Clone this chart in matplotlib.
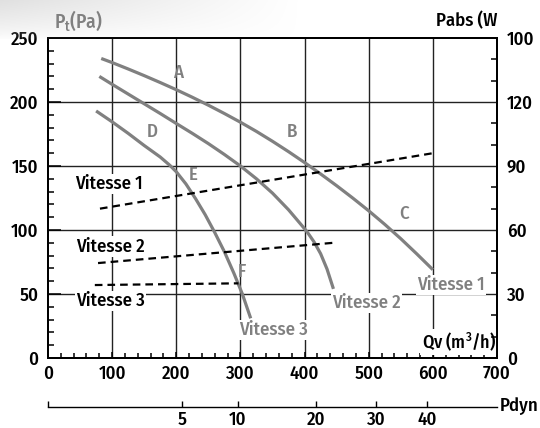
import numpy as np
import matplotlib
matplotlib.use("Agg")
import matplotlib.pyplot as plt
from matplotlib.ticker import MultipleLocator

plt.rcParams['font.family'] = ['Fira Sans Condensed', 'DejaVu Sans']
plt.rcParams['font.weight'] = 'medium'
plt.rcParams['mathtext.fontset'] = 'custom'
plt.rcParams['mathtext.rm'] = 'Fira Sans Condensed:medium'
plt.rcParams['lines.scale_dashes'] = False

# ---- data ----
# pressure curves (Pa vs m3/h)
curve_a_x = [83, 100, 125, 150, 175, 200, 225, 250, 275, 300, 325, 350, 375, 400,
             425, 450, 475, 500, 525, 550, 575, 600]
curve_a_y = [234, 230.8, 225.8, 220.6, 215.2, 209.6, 203.7, 197.5, 191, 184.2, 177,
             169.3, 161.2, 152.7, 143.8, 134.6, 125, 115, 104.4, 93.2, 81.3, 69]
curve_b_x = [80, 100, 125, 150, 175, 200, 225, 250, 275, 300, 325, 350, 375, 400,
             405, 415, 425, 435, 445]
curve_b_y = [220, 213.8, 206.2, 198.6, 191, 183.2, 175.5, 167.5, 159, 150, 140,
             128.8, 115.8, 101, 97.8, 90.5, 81.5, 69.5, 54]
curve_c_x = [75, 100, 125, 150, 175, 190, 200, 215, 230, 245, 260, 275, 290, 303, 316]
curve_c_y = [193, 184.5, 175.5, 166, 157, 150.5, 145.5, 136, 124.5, 112, 98, 83,
             66, 50, 31]

# absorbed power (W) vs m3/h, right axis
pow1_x = [81, 600]
pow1_w = [70, 96]
pow2_x = [78, 445]
pow2_w = [44.5, 54]
pow3_x = [73, 297]
pow3_w = [34.2, 35]

left_ticks = [0, 50, 100, 150, 200, 250]
right_tick_labels = ['0', '30', '60', '90', '120', '100']
x_ticks = [0, 100, 200, 300, 400, 500, 600, 700]
pdyn_ticks = [5, 10, 20, 30, 40]
pdyn_k = 93.5  # Qv = k*sqrt(Pdyn)

W_PER_PA = 0.6  # right-axis scale: 90 W <-> 150 Pa

GRAY = '#808080'
FS = 13.5

fig = plt.figure(figsize=(5.4, 4.28), dpi=100)
L, R, T, B = 48, 497, 38, 358
ax = fig.add_axes([L / 540, 1 - B / 428, (R - L) / 540, (B - T) / 428])
ax.set_xlim(0, 700)
ax.set_ylim(0, 250)

# light scan shadow in the top-left corner
grad = np.linspace(1, 0, 300)[None, :] * np.linspace(1, 0, 40)[:, None] ** 0.7
fig.figimage(np.dstack([np.full_like(grad, 0.8)] * 3 + [grad * 0.6]),
             xo=0, yo=428 - 40, zorder=0, resize=False)

# grid
for xv in [100, 200, 300, 400, 500, 600]:
    ax.axvline(xv, color='#222222', lw=1.0, zorder=1)
for yv in [50, 100, 150, 200]:
    ax.axhline(yv, color='#222222', lw=1.0, zorder=1)

# curves
for cx, cy in [(curve_a_x, curve_a_y), (curve_b_x, curve_b_y), (curve_c_x, curve_c_y)]:
    ax.plot(cx, cy, color=GRAY, lw=2.3, solid_capstyle='butt',
            solid_joinstyle='round', zorder=3)

for px_, pw in [(pow1_x, pow1_w), (pow2_x, pow2_w), (pow3_x, pow3_w)]:
    ax.plot(px_, np.array(pw) / W_PER_PA, color='black', lw=1.6,
            dashes=(5.5, 3.6), zorder=3)

# axis styling
for s in ax.spines.values():
    s.set_linewidth(1.4)
ax.set_xticks(x_ticks)
ax.xaxis.set_minor_locator(MultipleLocator(20))
ax.set_yticks(left_ticks)
ax.yaxis.set_minor_locator(MultipleLocator(10))
ax.tick_params(axis='both', which='both', direction='in', labelsize=FS, width=1.1)
ax.tick_params(axis='y', which='major', length=9, pad=7)
ax.tick_params(axis='y', which='minor', length=4.5)
ax.tick_params(axis='x', which='major', length=4, pad=5)
ax.tick_params(axis='x', which='minor', length=3.5)

# right axis
axr = ax.twinx()
axr.set_ylim(0, 250)
axr.set_yticks(left_ticks)
axr.set_yticklabels(right_tick_labels)
axr.yaxis.set_minor_locator(MultipleLocator(50 / 3))
axr.tick_params(axis='y', which='both', direction='in', labelsize=FS, width=1.1, pad=7)
axr.tick_params(axis='y', which='major', length=0)
axr.tick_params(axis='y', which='minor', length=4.5)
for s in axr.spines.values():
    s.set_linewidth(1.4)

# Pdyn secondary axis
sec = ax.secondary_xaxis(-(407 - 358) / (B - T),
                         functions=(lambda q: (np.asarray(q) / pdyn_k) ** 2,
                                    lambda p: pdyn_k * np.sqrt(np.maximum(p, 0))))
sec.set_xticks([0] + pdyn_ticks)
sec.set_xticklabels([''] + [str(t) for t in pdyn_ticks])
sec.tick_params(direction='in', length=4, width=1.0, labelsize=FS, pad=3)
sec.spines['bottom'].set_linewidth(1.0)
fig.text(500 / 540, 1 - 406 / 428, 'Pdyn', fontsize=FS, ha='left', va='center')

# texts
wb = dict(facecolor='white', edgecolor='none', pad=1.0)
for s, x, y in [('A', 203, 223), ('B', 380, 177), ('C', 555, 112.5),
                ('D', 162.5, 176.5), ('E', 226.5, 143), ('F', 301.5, 67)]:
    ax.text(x, y, s, color=GRAY, fontsize=FS, ha='center', va='center', zorder=4)
for s, x, y in [('Vitesse 1', 95, 136), ('Vitesse 2', 97, 87), ('Vitesse 3', 97, 44.5)]:
    ax.text(x, y, s, color='black', fontsize=FS, ha='center', va='center',
            bbox=wb, zorder=4)
for s, x, y in [('Vitesse 1', 628, 57), ('Vitesse 2', 497, 43), ('Vitesse 3', 351.5, 22)]:
    ax.text(x, y, s, color=GRAY, fontsize=FS, ha='center', va='center',
            bbox=wb, zorder=4)
ax.text(640.6, 12.5, 'Qv (m$^3$/h)', color='black', fontsize=13, ha='center',
        va='center', bbox=wb, zorder=4)

fig.text(54 / 540, 1 - 21 / 428, r'P$_\mathregular{t}$(Pa)', color=GRAY,
         fontsize=14, ha='left', va='center')
fig.text(497 / 540, 1 - 21 / 428, 'Pabs (W', color='black', fontsize=FS,
         ha='right', va='center')

fig.savefig('out.png', dpi=100)
